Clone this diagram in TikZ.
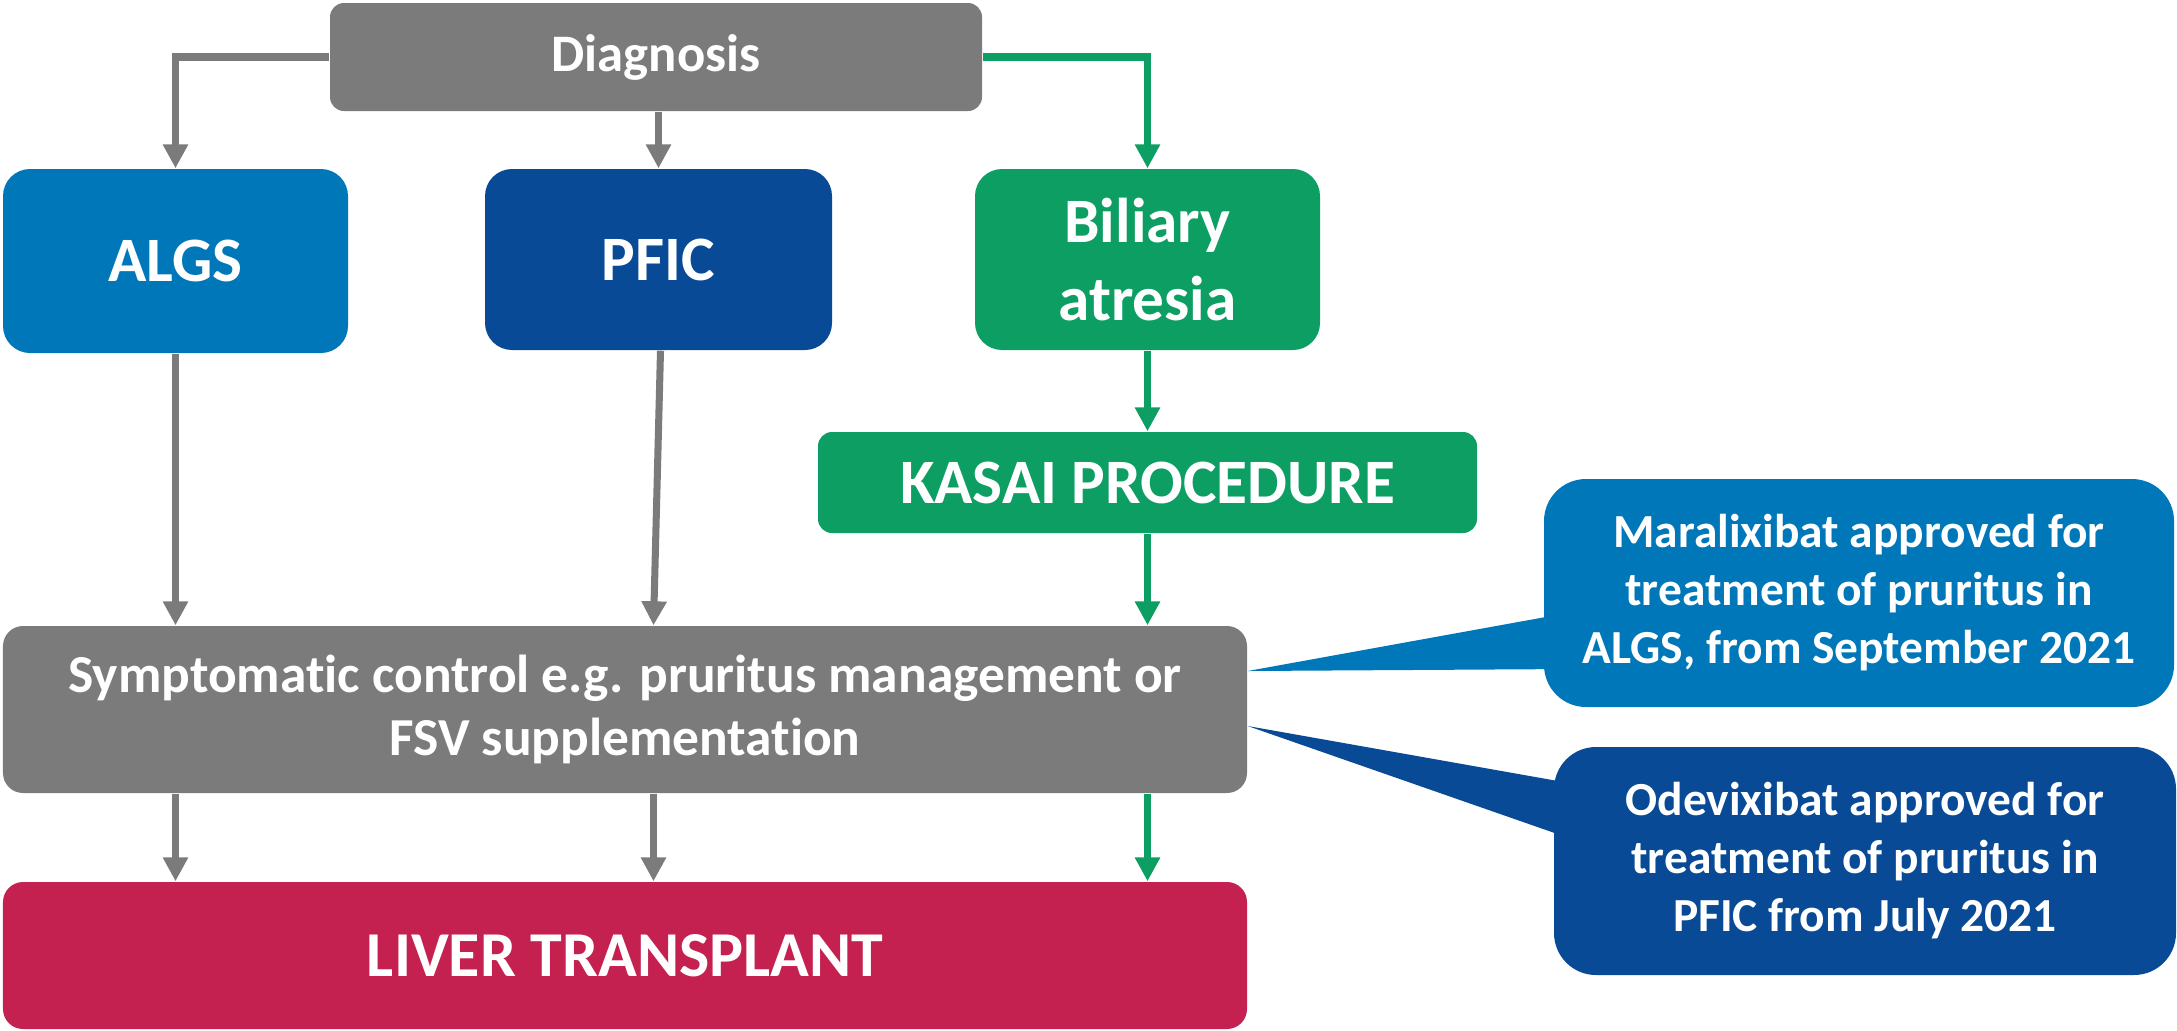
\documentclass[tikz,border=0pt]{standalone}
\usepackage{fontspec}
\setmainfont[Ligatures=NoCommon]{Carlito}
\usepackage{xcolor}
\definecolor{diaggray}{HTML}{7B7B7B}
\definecolor{algsblue}{HTML}{0077B8}
\definecolor{pficblue}{HTML}{084A95}
\definecolor{biliarygreen}{HTML}{0D9E63}
\definecolor{livercrimson}{HTML}{C42150}
\usepackage{tikz}
\usetikzlibrary{arrows.meta,positioning,calc,backgrounds}

\begin{document}
\begin{tikzpicture}[
    box/.style={rounded corners=0.27cm, inner sep=0pt, align=center, text=white, font=\bfseries\fontsize{18}{22}\selectfont},
    flow/.style={line width=2pt, -{Triangle[length=0.24cm, width=0.24cm]}},
    callout/.style={rounded corners=0.42cm, inner sep=0pt, align=center, text=white, font=\bfseries\fontsize{13.5}{16.5}\selectfont}
  ]
  \useasboundingbox (0,0) rectangle (21.77,-10.30);

  % Top row
  \node[box, fill=diaggray, rounded corners=0.14cm, minimum width=6.52cm, minimum height=1.08cm, font=\bfseries\fontsize{15}{18}\selectfont] (diag) at (6.56,-0.57) {Diagnosis};
  \node[box, fill=algsblue, minimum width=3.45cm, minimum height=1.84cm] (algs) at (1.755,-2.61) {ALGS};
  \node[box, fill=pficblue, minimum width=3.47cm, minimum height=1.81cm] (pfic) at (6.585,-2.595) {PFIC};
  \node[box, fill=biliarygreen, minimum width=3.45cm, minimum height=1.81cm] (biliary) at (11.475,-2.595) {Biliary\\atresia};
  \node[box, fill=biliarygreen, rounded corners=0.14cm, minimum width=6.59cm, minimum height=1.01cm] (kasai) at (11.475,-4.825) {KASAI PROCEDURE};

  % Lower rows
  \node[box, fill=diaggray, rounded corners=0.2cm, minimum width=12.44cm, minimum height=1.67cm, font=\bfseries\fontsize{15.2}{18}\selectfont] (sympt) at (6.25,-7.095) {Symptomatic control e.g. pruritus management or\\FSV supplementation};
  \node[box, fill=livercrimson, rounded corners=0.2cm, minimum width=12.44cm, minimum height=1.47cm, font=\bfseries\fontsize{18.2}{22}\selectfont] (liver) at (6.25,-9.555) {LIVER TRANSPLANT};

  % Approval callouts
  \node[callout, fill=algsblue, minimum width=6.30cm, minimum height=2.28cm] (mara) at (18.59,-5.93) {Maralixibat approved for\\treatment of pruritus in\\ALGS, from September 2021};
  \node[callout, fill=pficblue, minimum width=6.22cm, minimum height=2.28cm] (odev) at (18.65,-8.61) {Odevixibat approved for\\treatment of pruritus in\\PFIC from July 2021};

  \begin{scope}[on background layer]
    \fill[algsblue] ([yshift=0.385cm]sympt.east) -- ([xshift=0.3cm,yshift=-0.19cm]mara.west) -- ([xshift=0.3cm,yshift=-0.76cm]mara.west) -- cycle;
    \fill[pficblue] ([yshift=-0.165cm]sympt.east) -- ([xshift=0.3cm,yshift=0.755cm]odev.west) -- ([xshift=0.3cm,yshift=0.18cm]odev.west) -- cycle;
  \end{scope}

  % Diagnosis branches
  \draw[flow, diaggray] (diag.west) -| (algs.north);
  \draw[flow, diaggray] (diag.south -| pfic.north) -- (pfic.north);
  \draw[flow, biliarygreen] (diag.east) -| (biliary.north);

  % Down to symptomatic control
  \coordinate (pficin) at ([xshift=-0.05cm]pfic.south |- sympt.north);
  \draw[flow, diaggray] (algs.south) -- (algs.south |- sympt.north);
  \draw[flow, diaggray] ([xshift=0.02cm]pfic.south) -- (pficin);
  \draw[flow, biliarygreen] (biliary.south) -- (kasai.north);
  \draw[flow, biliarygreen] (kasai.south) -- (kasai.south |- sympt.north);

  % Down to liver transplant
  \draw[flow, diaggray] (algs.south |- sympt.south) -- (algs.south |- liver.north);
  \draw[flow, diaggray] (pficin |- sympt.south) -- (pficin |- liver.north);
  \draw[flow, biliarygreen] (kasai.south |- sympt.south) -- (kasai.south |- liver.north);
\end{tikzpicture}
\end{document}
